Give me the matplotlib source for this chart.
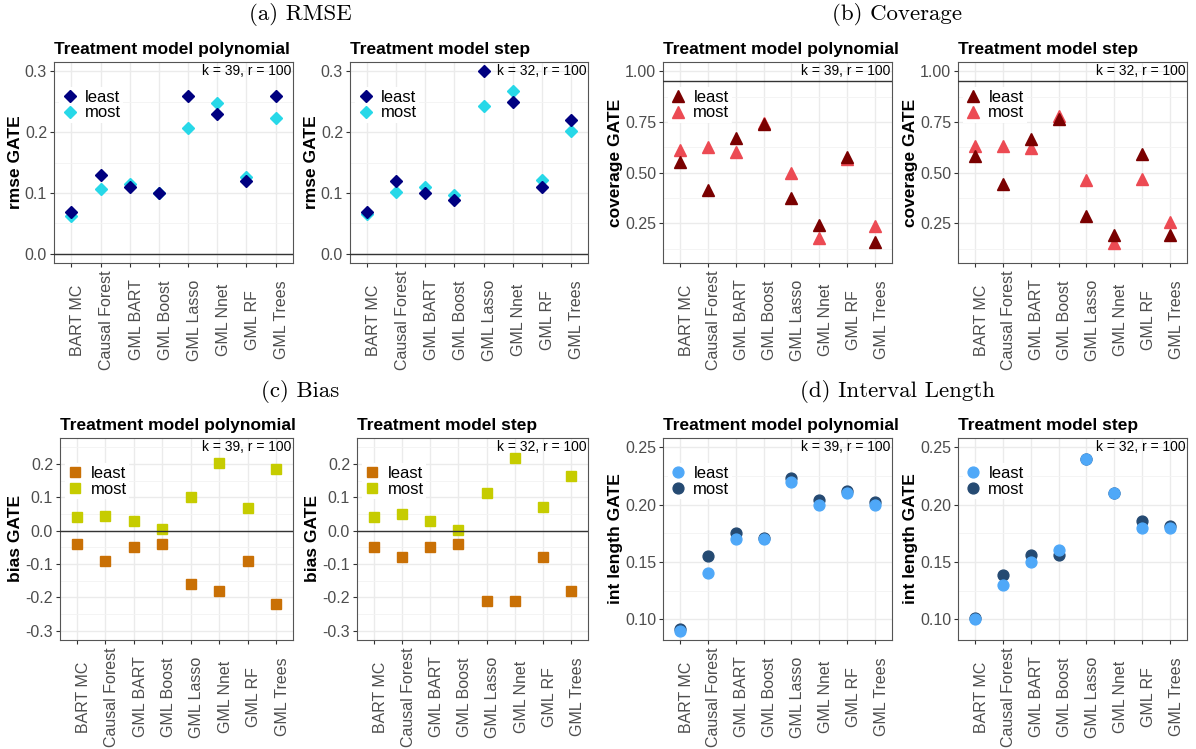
import matplotlib
matplotlib.use("Agg")
import matplotlib.pyplot as plt
from matplotlib.lines import Line2D
from matplotlib.transforms import ScaledTranslation

methods = ["BART MC", "Causal Forest", "GML BART", "GML Boost",
           "GML Lasso", "GML Nnet", "GML RF", "GML Trees"]
groups = ["least", "most"]

rmse_poly_least = [0.069, 0.130, 0.109, 0.100, 0.259, 0.229, 0.120, 0.260]
rmse_poly_most = [0.062, 0.107, 0.114, 0.100, 0.206, 0.247, 0.126, 0.223]
rmse_step_least = [0.069, 0.119, 0.100, 0.089, 0.300, 0.249, 0.109, 0.219]
rmse_step_most = [0.065, 0.101, 0.110, 0.097, 0.242, 0.268, 0.122, 0.201]

cov_poly_least = [0.553, 0.415, 0.669, 0.738, 0.374, 0.243, 0.576, 0.156]
cov_poly_most = [0.614, 0.624, 0.603, 0.745, 0.498, 0.180, 0.565, 0.235]
cov_step_least = [0.583, 0.445, 0.667, 0.766, 0.285, 0.194, 0.594, 0.194]
cov_step_most = [0.632, 0.630, 0.621, 0.778, 0.462, 0.154, 0.469, 0.258]

bias_poly_least = [-0.04, -0.09, -0.05, -0.04, -0.16, -0.18, -0.09, -0.22]
bias_poly_most = [0.042, 0.045, 0.029, 0.006, 0.100, 0.204, 0.069, 0.184]
bias_step_least = [-0.05, -0.08, -0.05, -0.04, -0.21, -0.21, -0.08, -0.18]
bias_step_most = [0.041, 0.051, 0.029, 0.003, 0.112, 0.217, 0.071, 0.163]

int_poly_least = [0.090, 0.140, 0.170, 0.170, 0.220, 0.200, 0.210, 0.200]
int_poly_most = [0.092, 0.155, 0.175, 0.171, 0.223, 0.204, 0.212, 0.202]
int_step_least = [0.100, 0.130, 0.150, 0.160, 0.240, 0.210, 0.180, 0.180]
int_step_most = [0.101, 0.139, 0.156, 0.156, 0.240, 0.210, 0.186, 0.181]

panel_titles = ["Treatment model polynomial", "Treatment model step"]
annotations = ["k = 39, r = 100", "k = 32, r = 100"]
subtitles = ["(a) RMSE", "(b) Coverage", "(c) Bias", "(d) Interval Length"]

W, H = 1196, 749
fig = plt.figure(figsize=(W / 100, H / 100), dpi=100)
plt.rcParams["font.family"] = ["Liberation Sans", "DejaVu Sans"]

def add_ax(l, t, r, b):
    return fig.add_axes([l / W, 1 - b / H, (r - l) / W, (b - t) / H])

metrics = [
    dict(data=[(rmse_poly_least, rmse_poly_most), (rmse_step_least, rmse_step_most)],
         marker="D", ms=5.7, colors=["#000080", "#27D8E8"],
         ylim=(-0.015, 0.315), major=[0.0, 0.1, 0.2, 0.3], labels=["0.0", "0.1", "0.2", "0.3"],
         minor=[0.05, 0.15, 0.25], hline=0.0, ann_y=0.3, ylabel="rmse GATE",
         boxes=[(54, 62, 293, 263), (350, 62, 588, 263)]),
    dict(data=[(cov_poly_least, cov_poly_most), (cov_step_least, cov_step_most)],
         marker="^", ms=9.0, colors=["#7A0000", "#EC4A53"],
         ylim=(0.055, 1.045), major=[0.25, 0.5, 0.75, 1.0], labels=["0.25", "0.50", "0.75", "1.00"],
         minor=[0.125, 0.375, 0.625, 0.875], hline=0.95, ann_y=1.0, ylabel="coverage GATE",
         boxes=[(663, 62, 892, 263), (958, 62, 1187, 263)]),
    dict(data=[(bias_poly_least, bias_poly_most), (bias_step_least, bias_step_most)],
         marker="s", ms=7.0, colors=["#C97005", "#C6CC00"],
         ylim=(-0.3275, 0.2775), major=[-0.3, -0.2, -0.1, 0.0, 0.1, 0.2],
         labels=["-0.3", "-0.2", "-0.1", "0.0", "0.1", "0.2"],
         minor=[-0.25, -0.15, -0.05, 0.05, 0.15, 0.25], hline=0.0, ann_y=0.25, ylabel="bias GATE",
         boxes=[(60, 438, 293, 640), (357, 438, 588, 640)]),
    dict(data=[(int_poly_least, int_poly_most), (int_step_least, int_step_most)],
         marker="o", ms=7.8, colors=["#4FA8F8", "#254A72"],
         ylim=(0.082, 0.258), major=[0.10, 0.15, 0.20, 0.25], labels=["0.10", "0.15", "0.20", "0.25"],
         minor=[0.125, 0.175, 0.225], hline=None, ann_y=0.25, ylabel="int length GATE",
         boxes=[(663, 438, 892, 640), (958, 438, 1187, 640)]),
]

xpos = list(range(len(methods)))
label_shift = ScaledTranslation(4.5 / 72, -41 / 72, fig.dpi_scale_trans)

for m in metrics:
    for j, (least, most) in enumerate(m["data"]):
        ax = add_ax(*m["boxes"][j])
        ax.set_xlim(-0.6, len(methods) - 0.4)
        ax.set_ylim(*m["ylim"])
        ax.set_yticks(m["major"])
        ax.set_yticklabels(m["labels"])
        ax.set_yticks(m["minor"], minor=True)
        ax.set_xticks(xpos)
        ax.set_xticklabels([])
        tr = ax.get_xaxis_transform() + label_shift
        for i, name in enumerate(methods):
            ax.text(i, 0, name, transform=tr, rotation=90, ha="center", va="center",
                    fontsize=11.5, color="#4D4D4D", clip_on=False)
        ax.grid(True, which="major", color="#EBEBEB", lw=1.0, zorder=0)
        ax.grid(True, which="minor", axis="y", color="#F3F3F3", lw=0.6, zorder=0)
        ax.set_axisbelow(True)
        ax.tick_params(axis="both", which="major", length=3, width=0.8, color="#333333",
                       labelcolor="#4D4D4D", labelsize=11.5, pad=2)
        ax.tick_params(axis="y", which="minor", length=0)
        for s in ax.spines.values():
            s.set_color("#555555")
            s.set_linewidth(0.8)
        if m["hline"] is not None:
            ax.axhline(m["hline"], color="#333333", lw=1.0, zorder=6)
        ax.plot(xpos, most, ls="none", marker=m["marker"], ms=m["ms"], color=m["colors"][1],
                mec=m["colors"][1], zorder=3)
        ax.plot(xpos, least, ls="none", marker=m["marker"], ms=m["ms"], color=m["colors"][0],
                mec=m["colors"][0], zorder=4)
        handles = [Line2D([], [], ls="none", marker=m["marker"], ms=m["ms"], color=c) for c in m["colors"]]
        ax.legend(handles, groups, loc="upper left", bbox_to_anchor=(0.02, 0.875),
                  frameon=True, facecolor="white", edgecolor="none", framealpha=1,
                  fancybox=False, fontsize=12, handlelength=1.0, handletextpad=0.4,
                  labelspacing=0.05, borderpad=0.15, borderaxespad=0)
        ax.text(0.995, m["ann_y"], annotations[j], transform=ax.get_yaxis_transform(),
                ha="right", va="center", fontsize=10, color="black", zorder=7)
        ax.set_ylabel(m["ylabel"], fontsize=12.5, fontweight="bold", labelpad=1.5)
        ax.set_title(panel_titles[j], loc="left", fontsize=12.5, fontweight="bold", pad=6)

for txt, x, y in zip(subtitles, [300, 897, 300, 897], [15, 15, 392, 392]):
    fig.text(x / W, 1 - y / H, txt, ha="center", va="center", fontsize=16.5, family="cmr10")

fig.savefig("out.png", dpi=100)
